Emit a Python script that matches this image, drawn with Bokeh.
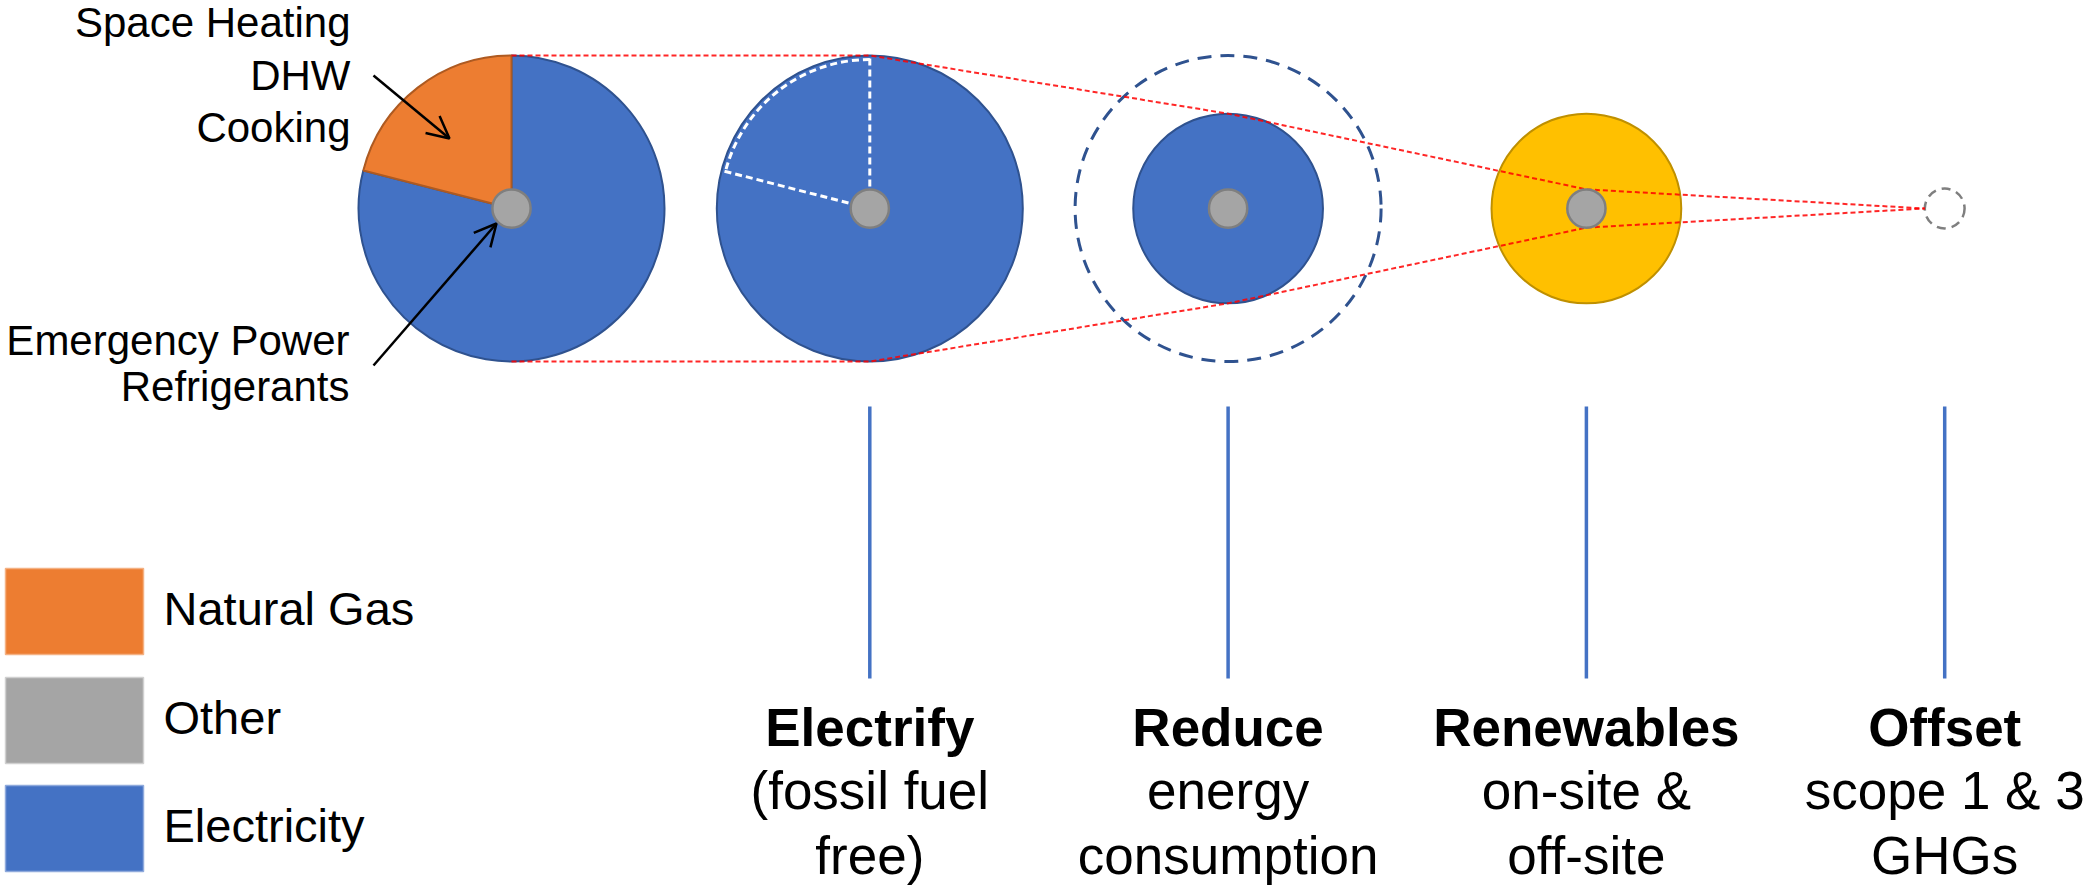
import numpy as np
from bokeh.plotting import figure
from bokeh.models import Range1d, Arrow, OpenHead
from bokeh.core.properties import value
from bokeh.embed import file_html
from bokeh.resources import INLINE

# ---------------- data ----------------
fuel_names = ["Natural Gas", "Other", "Electricity"]
fuel_colors = ["#ED7D31", "#A5A5A5", "#4472C4"]
gas_share = 0.21            # share of baseline pie that is natural gas
other_radius = 0.125        # relative radius of the "other" core
# relative size of footprint: baseline, electrify, reduce, renewables, offset
footprint_radius = [1.0, 1.0, 0.62, 0.62, 0.13]
gas_uses = ["Space Heating", "DHW", "Cooking"]
other_uses = ["Emergency Power", "Refrigerants"]
stage_names = ["Electrify", "Reduce", "Renewables", "Offset"]
stage_line1 = ["(fossil fuel", "energy", "on-site &", "scope 1 & 3"]
stage_line2 = ["free)", "consumption", "off-site", "GHGs"]

# ---------------- layout ----------------
W, H = 2091, 887
FONT = value("Liberation Sans")
BLUE, ORANGE, GRAY, YELLOW = "#4472C4", "#ED7D31", "#A5A5A5", "#FFC000"
X0, DX, CY, R = 511, 358.3, 208, 153
xs = [X0 + i * DX for i in range(5)]
Y = lambda v: -v
rr = [f * R for f in footprint_radius]
ro = other_radius * R


def mid(baseline, size):
    # vertical middle of a text line from its alphabetic baseline
    return Y(baseline - 0.35 * size)


p = figure(width=W, height=H, output_backend="svg", toolbar_location=None,
           x_range=Range1d(0, W), y_range=Range1d(-H, 0),
           min_border=0, x_axis_location=None, y_axis_location=None)
p.grid.visible = False
p.outline_line_color = None
p.background_fill_color = "white"
p.border_fill_color = "white"

a_split = 90 + gas_share * 360

# baseline pie
p.wedge(x=[xs[0]], y=[Y(CY)], radius=rr[0], start_angle=np.deg2rad(a_split),
        end_angle=np.deg2rad(90), fill_color=BLUE, line_color="#2F528F", line_width=2)
p.wedge(x=[xs[0]], y=[Y(CY)], radius=rr[0], start_angle=np.deg2rad(90),
        end_angle=np.deg2rad(a_split), fill_color=ORANGE, line_color="#AE5A21", line_width=2)

# electrify
p.circle(x=[xs[1]], y=[Y(CY)], radius=rr[1], fill_color=BLUE, line_color="#2F528F", line_width=2)
ex = xs[1] + (rr[1] - 3) * np.cos(np.deg2rad(a_split))
ey = CY - (rr[1] - 3) * np.sin(np.deg2rad(a_split))
p.segment(x0=[xs[1], xs[1]], y0=[Y(CY), Y(CY)], x1=[xs[1], ex], y1=[Y(CY - rr[1] + 3), Y(ey)],
          line_color="white", line_width=3, line_dash="7 4")
p.arc(x=[xs[1]], y=[Y(CY)], radius=rr[1] - 4, start_angle=np.deg2rad(90),
      end_angle=np.deg2rad(a_split), line_color="white", line_width=3, line_dash="7 4")

# reduce
p.circle(x=[xs[2]], y=[Y(CY)], radius=rr[0], fill_color=None, line_color="#2F528F",
         line_width=3, line_dash="14 9")
p.circle(x=[xs[2]], y=[Y(CY)], radius=rr[2], fill_color=BLUE, line_color="#2F528F", line_width=2)

# renewables
p.circle(x=[xs[3]], y=[Y(CY)], radius=rr[3], fill_color=YELLOW, line_color="#BF9000", line_width=2)

# offset
p.circle(x=[xs[4]], y=[Y(CY)], radius=rr[4], fill_color=None, line_color="#7F7F7F",
         line_width=2.5, line_dash="9 6")

# red funnel lines
for s in (1, -1):
    fx = [xs[0], xs[1], xs[2], xs[3], xs[4] - rr[4]]
    fy = [CY - s * rr[0], CY - s * rr[1], CY - s * rr[2], CY - s * ro, CY]
    p.line(x=fx, y=[Y(v) for v in fy], line_color="#FF0000", line_width=2,
           line_dash="5 3", line_alpha=0.85)

# "other" cores
p.circle(x=xs[:4], y=[Y(CY)] * 4, radius=ro, fill_color=GRAY, line_color="#7F7F7F", line_width=2.5)

# labels at the baseline pie
p.text(x=[350] * 3, y=[mid(b, 42) for b in (37, 90, 142)], text=gas_uses, text_font=FONT,
       text_font_size=value("42px"), text_align="right", text_baseline="middle", text_color="black")
p.text(x=[349] * 2, y=[mid(b, 42) for b in (355, 401)], text=other_uses, text_font=FONT,
       text_font_size=value("42px"), text_align="right", text_baseline="middle", text_color="black")

head = dict(line_color="black", line_width=2.5, size=22)
p.add_layout(Arrow(end=OpenHead(**head), x_start=373, y_start=Y(75), x_end=449, y_end=Y(138),
                   line_color="black", line_width=2.5))
p.add_layout(Arrow(end=OpenHead(**head), x_start=373, y_start=Y(365), x_end=496, y_end=Y(223),
                   line_color="black", line_width=2.5))

# stage markers and titles
p.segment(x0=xs[1:], y0=[Y(406)] * 4, x1=xs[1:], y1=[Y(678)] * 4, line_color=BLUE, line_width=3.5)
p.text(x=xs[1:], y=[mid(746, 53)] * 4, text=stage_names, text_font=FONT, text_font_style="bold",
       text_font_size=value("53px"), text_align="center", text_baseline="middle", text_color="black")
p.text(x=xs[1:], y=[mid(809, 53)] * 4, text=stage_line1, text_font=FONT,
       text_font_size=value("53px"), text_align="center", text_baseline="middle", text_color="black")
p.text(x=xs[1:], y=[mid(874, 53)] * 4, text=stage_line2, text_font=FONT,
       text_font_size=value("53px"), text_align="center", text_baseline="middle", text_color="black")

# legend
tops = [568, 677, 785]
p.quad(left=[5] * 3, right=[143] * 3, top=[Y(t) for t in tops], bottom=[Y(t + 86) for t in tops],
       fill_color=fuel_colors, line_color=["#F4B183", "#D0D0D0", "#8FAADC"], line_width=1.5)
p.text(x=[163] * 3, y=[Y(t + 40) for t in tops], text=fuel_names, text_font=FONT,
       text_font_size=value("47px"), text_align="left", text_baseline="middle", text_color="black")

open("out.html", "w").write(file_html(p, INLINE))
